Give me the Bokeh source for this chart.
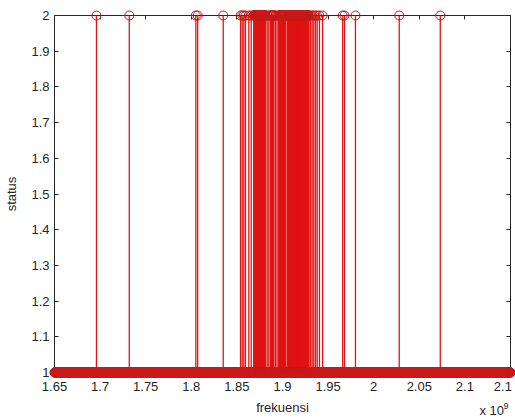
import numpy as np
from bokeh.plotting import figure
from bokeh.models import LinearAxis, FixedTicker, Range1d, ColumnDataSource
from bokeh.core.properties import value
from bokeh.embed import file_html
from bokeh.resources import INLINE

# ---- data (frequency in units of 1e9 Hz) ----
# frequency sweep measured with status 1
sweep_start = 1.65
sweep_stop = 2.15
sweep_step = 0.0002
# single channels whose status is 2
freq_status2 = [1.696, 1.732, 1.805, 1.807, 1.835, 1.854, 1.8558, 1.8576, 1.8594, 1.8631,
                1.8657, 1.8832, 1.8850, 1.8868, 1.8923, 1.8940, 1.8956, 1.9307, 1.9325,
                1.9343, 1.9362, 1.938, 1.9405, 1.944, 1.966, 1.968, 1.980, 2.028, 2.073]
# contiguous frequency bands whose status is 2 (start, end)
band_status2 = [(1.8685, 1.8815), (1.8876, 1.8905), (1.8970, 1.9033), (1.9052, 1.9288)]
low_status = 1.0
high_status = 2.0
baseline = 1.0

x_tick_vals = [1.65, 1.7, 1.75, 1.8, 1.85, 1.9, 1.95, 2.0, 2.05, 2.1, 2.15]
x_tick_labels = ["1.65", "1.7", "1.75", "1.8", "1.85", "1.9", "1.95", "2", "2.05", "2.1",
                 "2.1\u00a0"]
y_tick_vals = [1.0, 1.1, 1.2, 1.3, 1.4, 1.5, 1.6, 1.7, 1.8, 1.9, 2.0]
y_tick_labels = ["1", "1.1", "1.2", "1.3", "1.4", "1.5", "1.6", "1.7", "1.8", "1.9", "2"]
x_multiplier = ["x 10", "9"]

sweep = np.round(np.arange(sweep_start, sweep_stop + sweep_step / 2, sweep_step), 4)
band_pts = [sweep[(sweep >= lo - 1e-9) & (sweep <= hi + 1e-9)] for lo, hi in band_status2]
f_high = np.concatenate([np.array(freq_status2)] + band_pts)

f_all = np.concatenate([sweep, f_high])
s_all = np.concatenate([np.full(len(sweep), low_status), np.full(len(f_high), high_status)])

src = ColumnDataSource(dict(f=f_all, s=s_all))
src_stem = ColumnDataSource(dict(f=f_high, s=np.full(len(f_high), high_status),
                                 b=np.full(len(f_high), baseline)))

FONT = "Liberation Sans"
RED = "#e01414"
TXT = "#262626"

p = figure(width=515, height=418, output_backend="svg", toolbar_location=None,
           x_range=Range1d(1.65, 2.15), y_range=Range1d(1.0, 2.0),
           x_axis_location=None, y_axis_location=None,
           min_border_left=54, min_border_right=5, min_border_top=15, min_border_bottom=46)
p.outline_line_color = None
p.xgrid.visible = False
p.ygrid.visible = False
p.background_fill_color = "white"
p.border_fill_color = "white"

# stems (overlay level so that markers on the box edges are not clipped)
p.segment(x0="f", y0="b", x1="f", y1="s", source=src_stem, line_color=RED, line_width=1.3,
          level="overlay")
# markers
p.scatter(x="f", y="s", source=src, marker="circle", size=9, fill_color=None,
          line_color="#c81818", line_width=1.0, level="overlay")

xo = {v: l for v, l in zip(x_tick_vals, x_tick_labels)}
yo = {v: l for v, l in zip(y_tick_vals, y_tick_labels)}
x_empty = {v: "" for v in x_tick_vals}
y_empty = {v: "" for v in y_tick_vals}


def style(ax):
    ax.axis_line_color = TXT
    ax.axis_line_width = 1
    ax.major_tick_line_color = TXT
    ax.major_tick_in = 4
    ax.major_tick_out = 0
    ax.minor_tick_line_color = None
    ax.major_label_text_font = FONT
    ax.major_label_text_font_size = "13px"
    ax.major_label_text_color = TXT
    ax.axis_label_text_font = FONT
    ax.axis_label_text_font_size = "13px"
    ax.axis_label_text_font_style = "normal"
    ax.axis_label_text_color = TXT


bottom = LinearAxis(ticker=FixedTicker(ticks=x_tick_vals), major_label_overrides=xo,
                    axis_label="frekuensi")
style(bottom)
bottom.major_label_standoff = 6
bottom.axis_label_standoff = 3

left = LinearAxis(ticker=FixedTicker(ticks=y_tick_vals), major_label_overrides=yo,
                  axis_label="status")
style(left)
left.major_label_standoff = 5
left.axis_label_standoff = 9

top = LinearAxis(ticker=FixedTicker(ticks=x_tick_vals), major_label_overrides=x_empty)
style(top)
top.major_label_standoff = 0
right = LinearAxis(ticker=FixedTicker(ticks=y_tick_vals), major_label_overrides=y_empty)
style(right)
right.major_label_standoff = 0

p.add_layout(bottom, "below")
p.add_layout(top, "above")
p.add_layout(left, "left")
p.add_layout(right, "right")

# axis multiplier "x 10^9", anchored at the lower-right corner of the axes box
corner_x = [x_tick_vals[-1]]
corner_y = [y_tick_vals[0]]
p.text(x=corner_x, y=corner_y, text=[x_multiplier[0]], x_offset=-31, y_offset=45,
       text_align="left", text_baseline="bottom", text_font=value(FONT),
       text_font_size="13px", text_color=TXT, level="overlay")
p.text(x=corner_x, y=corner_y, text=[x_multiplier[1]], x_offset=-7, y_offset=36,
       text_align="left", text_baseline="bottom", text_font=value(FONT),
       text_font_size="9px", text_color=TXT, level="overlay")

open("out.html", "w").write(file_html(p, INLINE))
